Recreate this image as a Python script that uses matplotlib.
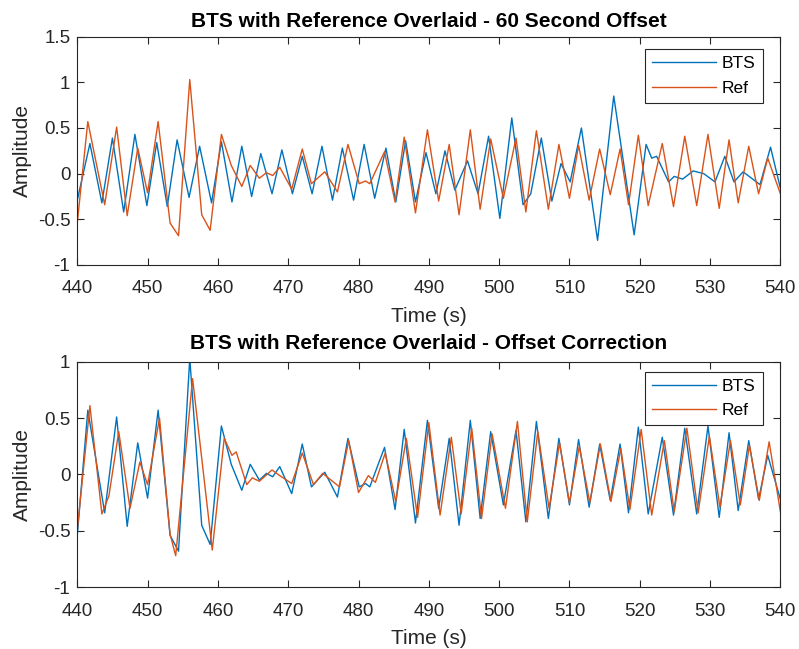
import matplotlib
matplotlib.use("Agg")
import matplotlib.pyplot as plt

plt.rcParams['font.family'] = ['Liberation Sans', 'DejaVu Sans']

# peaks / troughs (time in s, amplitude)
bts_t = [440.0, 441.8, 443.5, 445.0, 446.6, 448.2, 449.9, 451.3, 452.8, 454.2, 455.9, 457.4, 459.1, 460.5,
         462.0, 463.4, 464.8, 466.1, 467.7, 469.1, 470.6, 472.0, 473.4, 474.8, 476.3, 477.7, 479.3, 480.8,
         482.3, 483.9, 485.3, 486.7, 488.1, 489.6, 491.0, 492.3, 493.7, 495.5, 497.0, 498.5, 500.1, 501.8,
         503.4, 504.5, 506.0, 507.5, 508.8, 510.1, 511.7, 514.0, 516.3, 519.2, 520.9, 521.7, 522.4, 524.1,
         524.9, 526.1, 527.6, 529.1, 530.7, 532.1, 533.4, 534.7, 537.1, 538.6, 540.0]
bts_v = [-0.29, 0.33, -0.32, 0.39, -0.42, 0.43, -0.35, 0.34, -0.36, 0.37, -0.26, 0.30, -0.32, 0.35,
         -0.31, 0.30, -0.25, 0.22, -0.22, 0.26, -0.22, 0.19, -0.22, 0.30, -0.29, 0.28, -0.29, 0.32,
         -0.27, 0.28, -0.31, 0.36, -0.31, 0.23, -0.22, 0.25, -0.18, 0.14, -0.22, 0.41, -0.49, 0.61,
         -0.34, -0.22, 0.39, -0.30, 0.11, -0.09, 0.50, -0.73, 0.85, -0.67, 0.32, 0.17, 0.19, -0.09,
         -0.03, -0.06, 0.03, 0.00, -0.09, 0.19, -0.09, 0.02, -0.12, 0.29, -0.16]

# top panel Ref (same trace is the BTS line in the lower panel)
ref_t = [440.0, 441.5, 443.9, 445.6, 447.1, 448.6, 450.0, 451.5, 453.2, 454.4, 456.0, 457.7, 458.9, 460.5,
         461.9, 463.4, 464.6, 465.9, 466.9, 467.8, 468.8, 470.5, 472.0, 473.3, 475.2, 477.0, 478.5, 480.1,
         481.0, 481.6, 483.7, 485.2, 486.5, 488.1, 489.8, 491.4, 492.9, 494.3, 495.9, 497.3, 498.8, 500.6,
         502.4, 503.8, 505.3, 507.0, 508.5, 510.0, 511.3, 512.8, 514.3, 515.8, 517.2, 518.4, 519.8, 521.2,
         523.2, 524.8, 526.4, 528.1, 529.7, 531.3, 532.7, 534.0, 535.5, 536.9, 538.2, 540.0]
ref_v = [-0.54, 0.57, -0.34, 0.51, -0.46, 0.28, -0.21, 0.57, -0.54, -0.68, 1.03, -0.45, -0.62, 0.43,
         0.09, -0.14, 0.09, -0.05, 0.01, -0.02, 0.07, -0.17, 0.27, -0.11, 0.02, -0.20, 0.32, -0.11,
         -0.08, -0.11, 0.24, -0.31, 0.40, -0.43, 0.48, -0.30, 0.32, -0.45, 0.48, -0.39, 0.38, -0.27,
         0.39, -0.42, 0.47, -0.39, 0.32, -0.27, 0.31, -0.29, 0.27, -0.23, 0.27, -0.34, 0.42, -0.35,
         0.33, -0.36, 0.41, -0.35, 0.43, -0.38, 0.37, -0.32, 0.30, -0.22, 0.17, -0.22]

# lower panel Ref after the offset correction
refc_t = [440.0, 441.8, 443.5, 444.5, 445.9, 447.5, 448.9, 450.0, 451.7, 453.2, 454.0, 456.4, 459.2, 460.9,
          462.0, 462.6, 464.1, 464.9, 465.9, 467.7, 468.8, 470.5, 472.0, 473.6, 474.9, 477.3, 478.6, 480.0,
          481.4, 482.4, 483.8, 485.3, 486.8, 488.4, 490.0, 491.6, 493.2, 494.6, 496.1, 497.5, 499.0, 500.9,
          502.6, 504.0, 505.5, 507.1, 508.6, 510.0, 511.4, 512.9, 514.4, 515.9, 517.3, 518.6, 520.2, 521.7,
          523.5, 524.9, 526.7, 528.3, 529.9, 531.4, 532.9, 534.3, 535.6, 537.0, 538.4, 540.0]
refc_v = [-0.49, 0.61, -0.35, -0.19, 0.38, -0.30, 0.11, -0.09, 0.50, -0.53, -0.72, 0.85, -0.67, 0.32,
          0.17, 0.20, -0.09, -0.03, -0.06, 0.04, -0.01, -0.08, 0.19, -0.09, 0.01, -0.11, 0.30, -0.16,
          -0.01, -0.07, 0.19, -0.24, 0.32, -0.38, 0.46, -0.36, 0.33, -0.35, 0.41, -0.39, 0.36, -0.30,
          0.47, -0.42, 0.38, -0.30, 0.28, -0.25, 0.25, -0.25, 0.27, -0.24, 0.23, -0.31, 0.40, -0.36,
          0.30, -0.33, 0.41, -0.34, 0.34, -0.29, 0.30, -0.27, 0.26, -0.23, 0.29, -0.33]

blue = '#0072BD'
red = '#D95319'
dark = '#262626'

fig = plt.figure(figsize=(7.99, 6.49), dpi=100)
ax1 = fig.add_axes([0.0967, 0.5917, 0.880, 0.3518])
ax2 = fig.add_axes([0.0967, 0.0951, 0.880, 0.3476])

panels = [
    (ax1, bts_t, bts_v, ref_t, ref_v, 'BTS with Reference Overlaid - 60 Second Offset', (-1, 1.5),
     [-1, -0.5, 0, 0.5, 1, 1.5], 0.945, 7),
    (ax2, ref_t, ref_v, refc_t, refc_v, 'BTS with Reference Overlaid - Offset Correction', (-1, 1),
     [-1, -0.5, 0, 0.5, 1], 0.956, 9),
]

for ax, bt, bv, rt, rv, title, ylim, yt, legtop, tpad in panels:
    ax.plot(bt, bv, color=blue, linewidth=1.0, solid_joinstyle='round', label='BTS')
    ax.plot(rt, rv, color=red, linewidth=1.0, solid_joinstyle='round', label='Ref')
    ax.set_xlim(440, 540)
    ax.set_ylim(*ylim)
    ax.set_xticks(range(440, 541, 10))
    ax.set_yticks(yt)
    ax.set_yticklabels([('%g' % v) for v in yt])
    ax.tick_params(direction='in', top=True, right=True, labelsize=13.5, length=5,
                   color=dark, labelcolor=dark)
    ax.tick_params(axis='x', pad=11)
    ax.tick_params(axis='y', pad=5)
    for s in ax.spines.values():
        s.set_color(dark)
        s.set_linewidth(0.8)
    ax.set_xlabel('Time (s)', fontsize=15, color=dark, labelpad=7)
    ax.set_ylabel('Amplitude', fontsize=15, color=dark, labelpad=4)
    ax.set_title(title, fontsize=15, fontweight='bold', color='black', pad=tpad)
    leg = ax.legend(loc='upper right', bbox_to_anchor=(0.975, legtop), borderaxespad=0,
                    fontsize=12.5, fancybox=False, framealpha=1, edgecolor=dark,
                    handlelength=3.7, handletextpad=0.35, borderpad=0.4, labelspacing=0.55)
    leg.get_frame().set_linewidth(0.8)

fig.savefig('out.png', dpi=100)
